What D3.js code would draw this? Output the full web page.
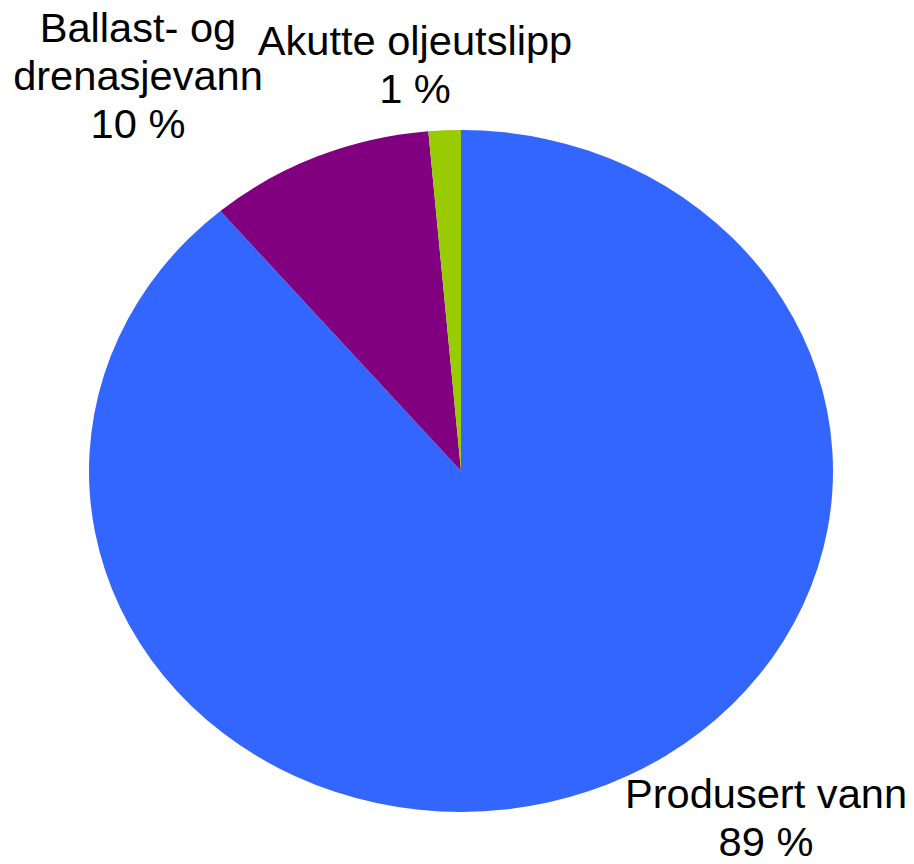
<!DOCTYPE html>
<html>
<head>
<meta charset="utf-8">
<script src="https://cdn.jsdelivr.net/npm/d3@7"></script>
<style>
  body { margin: 0; background: #fff; }
</style>
</head>
<body>
<script>
// Shares of oil discharge by source (percent)
const categories = ["Produsert vann", "Ballast- og drenasjevann", "Akutte oljeutslipp"];
const values = [88.8, 9.8, 1.4];
const colors = ["#3366FF", "#800080", "#99CC00"];
// label lines (text split as in the original)
const labelLines = [["Produsert vann"], ["Ballast- og", "drenasjevann"], ["Akutte oljeutslipp"]];

const width = 914;
const height = 864;
const cx = 461, cy = 471;
const ry = 341;          // vertical radius
const rx = 372;          // horizontal radius (pie is slightly stretched)

// label centres (x) and first baseline (y) in page coords
const labelPos = [[766, 808], [138, 42], [415, 55]];
const lineHeight = 48;

const svg = d3.select("body").append("svg")
    .attr("width", width)
    .attr("height", height)
    .style("font-family", "'Liberation Sans', Arial, sans-serif");

const pie = d3.pie().sort(null).value(d => d);
const arcs = pie(values);

const arc = d3.arc().innerRadius(0).outerRadius(ry);

svg.append("g")
    .attr("transform", `translate(${cx},${cy}) scale(${rx / ry},1)`)
  .selectAll("path")
  .data(arcs)
  .join("path")
    .attr("fill", (d, i) => colors[i])
    .attr("d", arc);

const fmt = v => `${Math.round(v)} %`;

// text in the original is a little wider than plain Arial
const labels = svg.append("g")
  .selectAll("g")
  .data(arcs)
  .join("g")
    .attr("transform", (d, i) => `translate(${labelPos[i][0]},${labelPos[i][1]}) scale(1.04,1)`)
  .append("text")
    .attr("text-anchor", "middle")
    .style("font-size", "40px")
    .attr("fill", "#000");

labels.each(function(d, i) {
  const lines = labelLines[i].concat([fmt(d.data)]);
  d3.select(this).selectAll("tspan")
    .data(lines)
    .join("tspan")
      .attr("x", 0)
      .attr("dy", (l, j) => j === 0 ? 0 : lineHeight)
      .text(l => l);
});
</script>
</body>
</html>
